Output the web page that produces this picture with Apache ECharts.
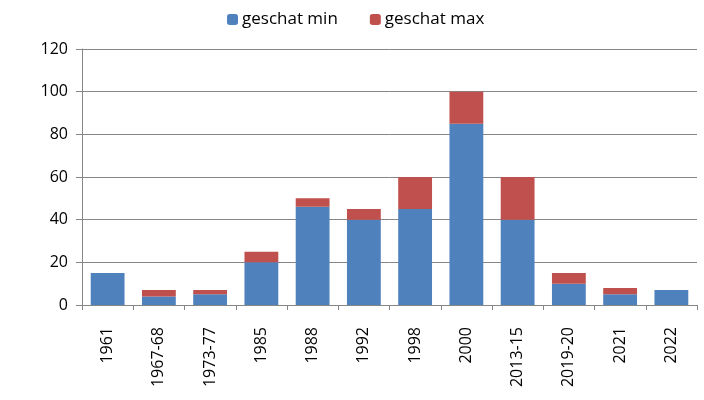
<!DOCTYPE html>
<html>
<head>
<meta charset="utf-8">
<script src="https://cdn.jsdelivr.net/npm/echarts@6/dist/echarts.min.js"></script>
<style>
  html, body { margin: 0; padding: 0; background: #fff; }
  #chart { width: 704px; height: 400px; }
</style>
</head>
<body>
<div id="chart"></div>
<script>
const categories = ["1961", "1967-68", "1973-77", "1985", "1988", "1992", "1998", "2000", "2013-15", "2019-20", "2021", "2022"];
const minValues = [15, 4, 5, 20, 46, 40, 45, 85, 40, 10, 5, 7];
const maxExtra = [0, 3, 2, 5, 4, 5, 15, 15, 20, 5, 3, 0];
const yTicks = [0, 20, 40, 60, 80, 100, 120];

const font = "'Open Sans', sans-serif";
const grey = "#868686";

const chart = echarts.init(document.getElementById("chart"));
chart.setOption({
  animation: false,
  textStyle: { fontFamily: font },
  legend: {
    top: 6,
    left: 222,
    itemWidth: 11,
    itemHeight: 11,
    itemGap: 32,
    textStyle: { fontSize: 17, color: "#000", fontFamily: font, padding: [0, 0, 0, -1] },
    data: ["geschat min", "geschat max"]
  },
  grid: { left: 82, right: 7, top: 49, bottom: 95 },
  xAxis: {
    type: "category",
    data: categories,
    axisLine: { lineStyle: { color: grey, width: 1 } },
    axisTick: { show: true, length: 5, lineStyle: { color: grey } },
    axisLabel: { rotate: 90, fontSize: 16, color: "#000", margin: 22, interval: 0, fontFamily: font }
  },
  yAxis: {
    type: "value",
    min: yTicks[0],
    max: yTicks[yTicks.length - 1],
    interval: 20,
    axisLine: { show: true, lineStyle: { color: grey, width: 1 } },
    axisTick: { show: true, length: 6, lineStyle: { color: grey } },
    splitLine: { lineStyle: { color: grey, width: 1 } },
    axisLabel: { fontSize: 16, color: "#000", margin: 14, fontFamily: font }
  },
  series: [
    {
      name: "geschat min",
      type: "bar",
      stack: "total",
      barWidth: "66%",
      data: minValues,
      itemStyle: { color: "#4F81BD" }
    },
    {
      name: "geschat max",
      type: "bar",
      stack: "total",
      barWidth: "66%",
      data: maxExtra,
      itemStyle: { color: "#C0504D" }
    }
  ]
});
</script>
</body>
</html>
